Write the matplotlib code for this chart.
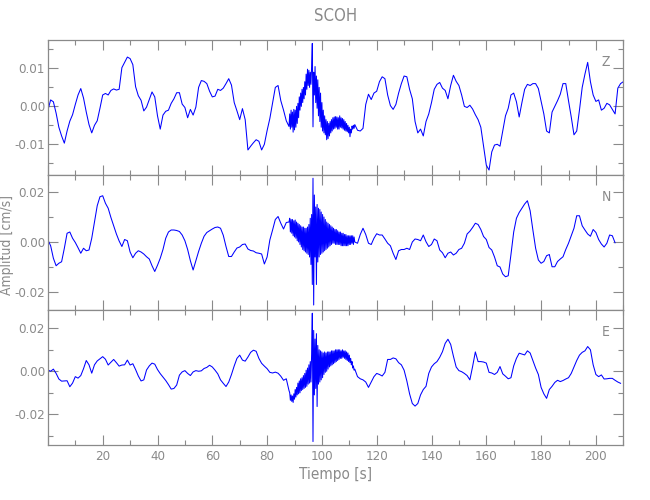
import numpy as np
import matplotlib
matplotlib.use("Agg")
import matplotlib.pyplot as plt
from matplotlib import font_manager
from matplotlib.ticker import MultipleLocator, FormatStrFormatter, FuncFormatter

# ---------------- data (units of 1e-3 cm/s) ----------------
# segment 1: t = 0..88 s (1 s step); segment 2: t = 88.25..112 s (0.25 s step); segment 3: t = 113.. (1 s step)
z_early = [-1.0, 1.7, 1.2, -1.8, -5.5, -7.8, -9.7, -6.5, -3.9, -2.2,
           0.5, 3.0, 4.7, 2.2, -1.5, -4.8, -7.0, -5.0, -3.8, -0.5,
           3.0, 3.4, 3.0, 4.2, 4.6, 4.3, 4.5, 10.2, 11.6, 13.0,
           12.6, 11.0, 5.2, 2.8, 1.6, -1.2, -0.2, 1.8, 3.8, 2.5,
           -2.5, -6.0, -2.3, -1.3, -1.0, 0.8, 2.0, 3.6, 3.6, 0.6,
           -0.3, -3.0, -0.8, -2.3, -0.2, 5.0, 6.8, 6.6, 6.0, 4.0,
           2.5, 2.7, 4.5, 4.2, 4.8, 6.0, 7.3, 5.6, 1.0, -1.2,
           -3.5, -0.6, -3.5, -11.5, -10.5, -9.6, -8.8, -9.2, -11.5, -10.0,
           -6.4, -3.2, 0.9, 5.0, 5.5, 1.5, -1.0, -3.8, -5.3]
z_burst = [-2.0, -6.0, -1.0, -5.5,   -1.5, -6.8, -0.8, -6.2,
           -1.0, -5.5, 0.0, -4.5,    0.8, -3.0, 2.5, -1.0,
           3.5, 0.0, 4.5, 1.0,       5.0, 2.0, 6.5, 3.0,
           8.5, 4.5, 9.8, 5.5,       9.5, 5.0, 9.0, 5.8,
           10.5, 16.6, -5.4, 9.0,    3.0, 10.5, 1.0, 8.0,
           -0.5, 7.0, -2.5, 5.0,     -4.0, 3.5, -5.5, 1.0,
           -6.5, -1.0, -7.0, -2.5,   -7.5, -3.5, -8.8, -4.0,
           -8.5, -4.5, -7.8, -4.0,   -7.0, -3.5, -6.5, -3.0,
           -6.0, -2.8, -5.8, -2.7,   -5.5, -2.8, -6.0, -3.0,
           -6.0, -2.5, -5.5, -3.0,   -5.7, -3.2, -6.0, -3.5,
           -6.3, -4.0, -6.5, -4.5,   -6.7, -5.0, -7.0, -5.5,
           -8.0, -6.0, -7.0, -5.2,   -6.0, -5.0, -5.8, -4.8]
z_late = [-6.3, -6.5, -5.8, 0.5, 3.2, 1.8, 3.5, 4.0, 6.5, 7.8,
          7.3, 3.0, 0.2, -0.8, 0.5, 3.5, 6.0, 8.0, 7.8, 4.5,
          2.0, -4.0, -7.0, -6.0, -7.8, -4.0, -2.0, 1.0, 4.5, 5.8,
          6.3, 4.8, 4.2, 2.0, 5.5, 8.2, 6.6, 5.5, 3.0, 0.0,
          -0.3, 0.3, -0.7, -2.2, -3.5, -5.5, -10.5, -15.5, -16.8, -12.0,
          -10.2, -10.0, -10.5, -6.5, -2.5, -0.5, 3.0, 3.5, 1.2, -2.8,
          1.0, 4.5, 5.8, 5.5, 6.0, 6.0, 4.7, 1.3, -2.0, -6.5,
          -7.0, -1.5, 0.0, 1.5, 3.2, 6.0, 6.0, 1.5, -2.8, -7.5,
          -6.5, -1.0, 5.0, 8.5, 11.6, 6.5, 3.0, 1.3, 1.7, -1.0,
          -0.5, 0.8, 0.4, -0.8, -2.0, 4.8, 6.0, 6.5]

n_early = [0.8, -1.5, -6.5, -9.5, -8.5, -7.9, -2.5, 3.5, 4.0, 1.5,
           -0.2, -2.3, -4.5, -2.5, -3.5, -3.2, 1.5, 8.0, 14.5, 18.1,
           18.5, 15.5, 13.5, 9.8, 6.5, 3.2, 0.4, -1.8, 1.0, 0.5,
           -4.0, -6.3, -4.5, -3.5, -4.0, -4.8, -5.9, -6.8, -9.5, -11.8,
           -9.3, -6.5, -3.0, 1.5, 4.0, 4.8, 4.8, 4.6, 4.2, 2.8,
           0.5, -3.0, -7.5, -11.2, -7.5, -3.8, -0.5, 2.3, 3.8, 4.5,
           5.2, 5.8, 6.0, 5.5, 2.7, -1.8, -5.8, -5.8, -4.0, -2.4,
           -2.0, -1.0, -0.8, -2.8, -3.4, -3.6, -4.3, -4.5, -4.8, -8.8,
           -6.0, 0.8, 4.8, 9.0, 10.2, 7.5, 5.2, 7.8, 8.0]
n_burst = [9.5, 4.0, 9.0, 3.5,      9.0, 2.5, 8.5, 2.0,
           8.8, 1.5, 8.0, 0.5,      7.5, 0.0, 7.0, -1.0,
           6.5, -2.0, 6.0, -3.0,    6.0, -3.5, 5.5, -4.0,
           5.5, -4.5, 6.0, -5.0,    7.0, -6.0, 9.5, -9.0,
           11.0, -17.0, 25.5, -25.2, 18.8, -6.0, 14.0, -17.0,
           15.0, -8.0, 13.5, -6.0,  13.0, -5.0, 12.0, -4.5,
           11.0, -4.0, 10.0, -3.5,  9.0, -3.0, 8.0, -2.5,
           7.5, -2.0, 7.0, -1.5,    6.5, -1.0, 6.0, -0.5,
           5.5, -0.5, 5.0, -1.0,    5.0, -1.0, 4.5, -1.0,
           4.0, -1.0, 4.0, -1.5,    3.5, -1.5, 3.5, -1.5,
           3.0, -1.5, 3.0, -1.5,    2.5, -1.5, 2.5, -1.0,
           2.5, -1.0, 2.5, -0.5,    2.5, -1.0, 2.0, 0.0]
n_late = [-0.5, 3.0, 5.5, 3.0, -0.5, -1.0, 1.5, 3.3, 2.8, 2.8,
          1.2, -0.5, -1.5, -4.5, -7.0, -3.5, -3.0, -3.0, -2.5, -3.0,
          0.0, 1.2, 1.0, 0.5, 2.8, 0.1, -1.8, -1.0, 1.2, 0.5,
          -3.2, -4.3, -6.3, -4.5, -4.0, -5.2, -4.5, -3.0, -2.5, -0.5,
          3.2, 4.3, 5.8, 7.5, 7.0, 5.0, 2.2, 1.0, -2.2, -3.2,
          -6.0, -9.5, -10.0, -12.8, -13.9, -13.5, -5.0, 4.0, 9.5, 11.8,
          13.5, 15.2, 16.5, 12.5, 4.8, -2.5, -7.2, -8.5, -7.8, -5.5,
          -5.0, -9.9, -9.9, -7.8, -6.8, -5.9, -3.0, -0.5, 2.5, 5.5,
          10.5, 10.5, 6.5, 4.8, 3.2, 2.3, 5.0, 3.8, 1.0, -0.8,
          -2.0, -0.5, 2.8, 2.5, -0.3]

e_early = [0.6, 0.0, 1.0, -1.0, -3.6, -4.6, -4.5, -4.4, -7.2, -5.5,
           -2.5, -3.2, -2.0, 1.2, 5.0, 3.0, -0.9, 3.0, 4.8, 5.8,
           6.8, 5.6, 2.9, 4.2, 5.5, 4.0, 2.4, 2.9, 3.0, 5.2,
           2.9, 3.5, 0.8, -2.2, -4.5, -4.0, 0.6, 2.5, 3.8, 3.3,
           0.8, -1.1, -2.7, -4.3, -6.2, -8.3, -8.0, -6.4, -1.8, -0.3,
           0.3, -1.0, -2.0, -0.3, 0.3, 0.0, 0.2, 1.3, 1.8, 2.8,
           2.0, 0.5, -1.2, -4.0, -5.6, -7.1, -5.0, -1.5, 2.5, 6.0,
           7.5, 5.2, 4.7, 6.6, 8.8, 9.8, 9.3, 6.0, 3.7, 2.4,
           1.2, -0.5, -0.8, -0.4, -0.9, -2.3, -4.2, -3.5, -9.0]
e_burst = [-10.0, -13.5, -11.0, -14.0,  -11.5, -14.5, -10.5, -13.0,
           -8.5, -12.0, -7.5, -11.0,    -5.5, -10.5, -4.5, -10.0,
           -3.5, -9.0, -3.0, -8.5,      -2.0, -8.0, -1.0, -7.5,
           0.5, -7.0, 1.5, -6.0,        3.0, -5.5, 4.5, -5.0,
           8.0, 27.0, -32.7, 19.0,      -11.0, 15.0, -8.0, 17.5,
           -16.4, 12.0, -6.0, 10.0,     -5.0, 9.5, -4.0, 9.0,
           -3.0, 8.5, -1.5, 9.0,        -0.5, 8.5, 0.0, 9.0,
           1.0, 9.0, 2.0, 9.0,          2.5, 9.5, 3.0, 9.5,
           3.5, 9.5, 4.0, 10.0,         4.5, 10.0, 5.0, 10.0,
           5.5, 10.0, 6.0, 9.5,         6.0, 10.0, 6.5, 9.5,
           6.0, 9.5, 5.5, 9.0,          5.0, 8.5, 4.5, 7.5,
           4.0, 6.0, 3.0, 4.5,          1.5, 2.5, 0.5, 1.0]
e_late = [-2.5, -3.5, -4.0, -5.0, -7.5, -5.0, -2.5, -1.0, -1.5, -2.2,
          -0.5, 5.5, 5.5, 6.2, 5.8, 4.0, 3.0, 0.5, -4.5, -10.5,
          -15.0, -16.2, -15.0, -11.0, -8.5, -7.0, -1.0, 2.0, 3.5, 4.5,
          6.5, 9.1, 13.0, 14.9, 12.5, 7.0, 2.0, 0.3, -0.2, -1.0,
          -2.0, -4.0, 2.2, 9.0, 4.5, 4.5, 4.3, 3.8, -0.5, -0.8,
          -1.5, -0.5, 2.2, -1.2, -2.3, -3.5, -3.0, 2.5, 6.0, 8.4,
          8.0, 7.6, 9.5, 8.5, 5.0, 1.5, -1.5, -7.5, -10.5, -12.6,
          -8.5, -7.0, -5.2, -4.2, -4.8, -4.3, -3.6, -3.0, -1.0, 2.0,
          5.0, 7.5, 8.8, 9.5, 11.5, 10.0, 3.0, -1.5, -2.5, -1.7,
          -3.6, -3.5, -3.3, -3.3, -4.2, -5.0, -5.6]

components = ["Z", "N", "E"]
title = "SCOH"
ylabel = "Amplitud [cm/s]"
xlabel = "Tiempo [s]"


def build(early, burst, late):
    t = np.concatenate([np.arange(len(early)) * 1.0,
                        88.25 + 0.25 * np.arange(len(burst)),
                        113.0 + np.arange(len(late))])
    v = np.array(early + burst + late) * 1e-3
    return t, v


series = [build(z_early, z_burst, z_late),
          build(n_early, n_burst, n_late),
          build(e_early, e_burst, e_late)]

# ---------------- style ----------------
gray = "#8a8a8a"
names = {f.name for f in font_manager.fontManager.ttflist}
if "Liberation Sans Narrow" in names:
    plt.rcParams["font.family"] = ["Liberation Sans Narrow"]
else:
    plt.rcParams["font.family"] = ["DejaVu Sans"]
    plt.rcParams["font.stretch"] = "condensed"

fig = plt.figure(figsize=(6.5, 5.0), dpi=100)
left, width = 47.9 / 650, (623.3 - 47.9) / 650
rects = [(left, 0.65, width, 0.27),
         (left, 0.38, width, 0.27),
         (left, 0.11, width, 0.27)]
ylims = [(-0.0181, 0.0175), (-0.0272, 0.0268), (-0.0343, 0.0285)]
majors = [0.01, 0.02, 0.02]
minors = [0.005, 0.01, 0.01]

xfmt = FuncFormatter(lambda x, pos: "" if abs(x) < 1e-9 else "%d" % round(x))

axes = []
for i, (rect, (t, v)) in enumerate(zip(rects, series)):
    ax = fig.add_axes(rect)
    ax.plot(t, v, color="#0000ff", lw=0.75)
    ax.set_xlim(0, 210)
    ax.set_ylim(*ylims[i])
    ax.xaxis.set_major_locator(MultipleLocator(20))
    ax.xaxis.set_minor_locator(MultipleLocator(10))
    ax.xaxis.set_major_formatter(xfmt)
    ax.yaxis.set_major_locator(MultipleLocator(majors[i]))
    ax.yaxis.set_minor_locator(MultipleLocator(minors[i]))
    ax.yaxis.set_major_formatter(FormatStrFormatter("%.2f"))
    ax.tick_params(which="both", direction="in", top=True, right=True,
                   color=gray, labelcolor=gray, labelsize=9.5, width=0.8)
    ax.tick_params(which="major", length=7)
    ax.tick_params(which="minor", length=3.6)
    ax.tick_params(axis="y", pad=2)
    for s in ax.spines.values():
        s.set_color(gray)
        s.set_linewidth(0.9)
    if i < 2:
        ax.tick_params(axis="x", labelbottom=False)
    ax.text(0.97, 0.84, components[i], transform=ax.transAxes,
            ha="center", va="center", color=gray, fontsize=10)
    axes.append(ax)

axes[-1].set_xlabel(xlabel, color=gray, fontsize=11, labelpad=3)
fig.text(0.517, 0.968, title, ha="center", va="center", color=gray, fontsize=12)
fig.text(0.011, 0.51, ylabel, ha="center", va="center", rotation=90,
         color=gray, fontsize=10)

fig.savefig("out.png", dpi=100)
